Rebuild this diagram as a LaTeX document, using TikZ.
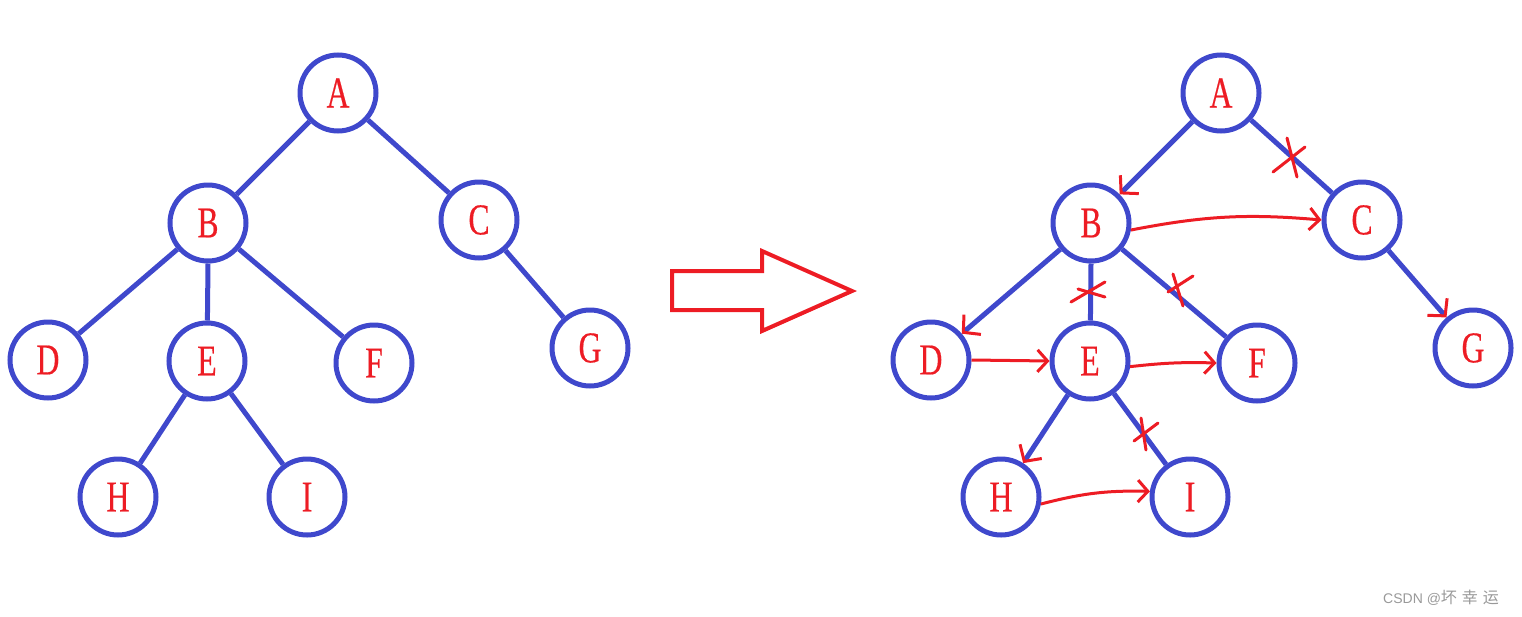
\documentclass[tikz,border=0pt]{standalone}
\usepackage{fontspec}
\newfontfamily\lett[FakeStretch=0.72,FakeBold=0.4]{Liberation Serif}
\newfontfamily\cjk{Noto Sans CJK SC}
\newfontfamily\wmsans{Liberation Sans}
\usetikzlibrary{arrows.meta}
\definecolor{tblue}{RGB}{63,72,204}
\definecolor{tred}{RGB}{237,28,36}
\begin{document}
\begin{tikzpicture}[x=1pt,y=-1pt,
  tnode/.style={circle,draw=tblue,line width=5pt,minimum size=76pt,inner sep=0pt,text=tred,font=\lett\fontsize{44}{44}\selectfont},
  tedge/.style={draw=tblue,line width=5pt},
  redtip/.style={-{Straight Barb[color=tred,line width=3pt,length=12pt,width=26pt]}},
  rarrow/.style={draw=tred,line width=3pt,-{Straight Barb[length=10pt,width=22pt]}},
  xstroke/.style={draw=tred,line width=3pt,line cap=round}
]
\useasboundingbox (0,0) rectangle (1522,616);
% left tree
\node[tnode] (lA) at (338,93) {A};
\node[tnode] (lB) at (208,223) {B};
\node[tnode] (lC) at (479,220) {C};
\node[tnode] (lD) at (48,360) {D};
\node[tnode] (lE) at (207,361) {E};
\node[tnode] (lF) at (374,363) {F};
\node[tnode] (lG) at (590,348) {G};
\node[tnode] (lH) at (118,497) {H};
\node[tnode] (lI) at (307,497) {I};
\draw[tedge] (lA) -- (lB);
\draw[tedge] (lA) -- (lC);
\draw[tedge] (lB) -- (lD);
\draw[tedge] (lB.south) -- (lE);
\draw[tedge] (lB) -- (lF);
\draw[tedge] (lC) -- (lG);
\draw[tedge] (lE) -- (lH);
\draw[tedge] (lE) -- (lI);
% block arrow
\draw[tred,line width=4pt,line join=miter] (672,271) -- (762,271) -- (762,251) -- (852,291) -- (762,331) -- (762,310) -- (672,310) -- cycle;
% right tree
\node[tnode] (rA) at (1221,93) {A};
\node[tnode] (rB) at (1091,223) {B};
\node[tnode] (rC) at (1362,220) {C};
\node[tnode] (rD) at (931,360) {D};
\node[tnode] (rE) at (1090,361) {E};
\node[tnode] (rF) at (1257,363) {F};
\node[tnode] (rG) at (1473,348) {G};
\node[tnode] (rH) at (1001,497) {H};
\node[tnode] (rI) at (1190,497) {I};
\draw[tedge,redtip] (rA) -- (rB);
\draw[tedge] (rA) -- (rC);
\draw[tedge,redtip] (rB) -- (rD);
\draw[tedge] (rB.south) -- (rE);
\draw[tedge] (rB) -- (rF);
\draw[tedge,redtip] (rC) -- (rG);
\draw[tedge,redtip] (rE) -- (rH);
\draw[tedge] (rE) -- (rI);
% red sibling arrows
\draw[rarrow] (rB.-10) to[bend left=8] (rC.180);
\draw[rarrow] (rD.0) -- (rE.180);
\draw[rarrow] (rE.-8) to[bend left=4] (rF.180);
\draw[rarrow] (rH.-10) to[bend left=8] (rI.172);
% crosses
\draw[xstroke] (1287,138) -- (1297,177);
\draw[xstroke] (1273,172) -- (1305,147);
\draw[xstroke] (1071,302) -- (1105,282);
\draw[xstroke] (1078,289) -- (1105,297);
\draw[xstroke] (1173,274) -- (1183,306);
\draw[xstroke] (1168,292) -- (1193,276);
\draw[xstroke] (1141,418) -- (1146,450);
\draw[xstroke] (1134,441) -- (1158,423);
% watermark
\node[text=black!40,anchor=west,inner sep=0pt] (wm) at (1383,598) {\wmsans\fontsize{14}{14}\selectfont CSDN @\cjk\fontsize{16}{16}\selectfont 坏\hspace{5pt}幸\hspace{5pt}运};
\end{tikzpicture}
\end{document}
